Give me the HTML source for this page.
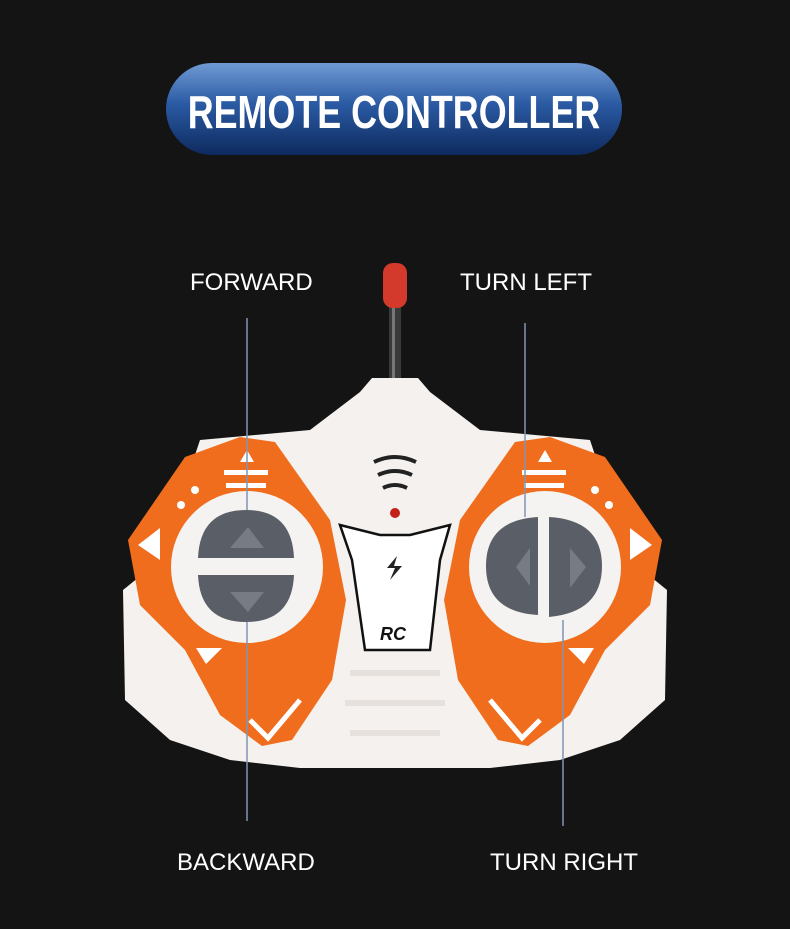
<!DOCTYPE html>
<html><head><style>
html,body{margin:0;padding:0;background:#141414;}
body{width:790px;height:929px;position:relative;overflow:hidden;font-family:"Liberation Sans",sans-serif;}
.lbl{position:absolute;color:#fff;font-size:24px;}
</style></head><body>
<svg width="790" height="929" style="position:absolute;left:0;top:0">
<defs>
<linearGradient id="pill" x1="0" y1="0" x2="0" y2="1">
<stop offset="0" stop-color="#6f9ad3"/><stop offset="0.45" stop-color="#2a5aa3"/><stop offset="1" stop-color="#0e2a5e"/>
</linearGradient>
</defs>
<rect x="166" y="63" width="456" height="92" rx="46" fill="url(#pill)"/>
<text x="394" y="128" text-anchor="middle" fill="#fff" font-family="Liberation Sans" font-weight="bold" font-size="46" transform="translate(394 0) scale(0.78 1) translate(-394 0)">REMOTE CONTROLLER</text>
<!-- antenna -->
<rect x="389" y="300" width="12" height="82" fill="#3a3a3a"/>
<rect x="392" y="300" width="3" height="82" fill="#777"/>
<rect x="383" y="263" width="24" height="45" rx="10" fill="#d33a2c"/>
<!-- white body -->
<path d="M372 378 L418 378 L430 392 L480 430 L590 440 L630 560 L667 590 L665 700 L620 740 L560 760 L490 768 L300 768 L230 760 L170 740 L125 700 L123 590 L160 560 L200 440 L310 430 L360 392 Z" fill="#f4f1ee"/>
<rect x="350" y="670" width="90" height="6" fill="#e6e1dc"/><rect x="345" y="700" width="100" height="6" fill="#e6e1dc"/><rect x="350" y="730" width="90" height="6" fill="#e6e1dc"/>
<!-- wings -->
<path d="M128 540 L185 457 L240 437 L275 442 L330 520 L346 600 L332 680 L292 740 L262 746 L220 715 L185 650 L140 605 Z" fill="#f06d1e"/>
<path d="M662 540 L605 457 L550 437 L515 442 L460 520 L444 600 L458 680 L498 740 L528 746 L570 715 L605 650 L650 605 Z" fill="#f06d1e"/>
<circle cx="247" cy="567" r="76" fill="#f5f3f1"/>
<circle cx="545" cy="567" r="76" fill="#f5f3f1"/>
<path d="M198 558 Q200 510 246 510 Q292 510 294 558 Z" fill="#5a5e66"/>
<path d="M198 575 L294 575 Q292 622 246 622 Q200 622 198 575 Z" fill="#5a5e66"/>
<polygon points="230,548 248,527 264,548" fill="#777b84"/>
<polygon points="230,592 264,592 248,612" fill="#777b84"/>
<path d="M538 517 Q486 520 486 566 Q486 612 538 615 Z" fill="#5a5e66"/>
<path d="M549 517 Q602 520 602 566 Q602 612 549 617 Z" fill="#5a5e66"/>
<polygon points="516,567 530,548 530,586" fill="#777b84"/>
<polygon points="570,548 586,567 570,588" fill="#777b84"/>
<polygon points="138,545 160,528 160,560" fill="#fff"/>
<polygon points="652,545 630,528 630,560" fill="#fff"/>
<polygon points="196,648 222,648 206,664" fill="#fff"/>
<polygon points="594,648 568,648 584,664" fill="#fff"/>
<polygon points="240,462 254,462 247,450" fill="#fff"/>
<polygon points="538,462 552,462 545,450" fill="#fff"/>
<rect x="226" y="483" width="40" height="5" fill="#fff"/><rect x="224" y="470" width="44" height="5" fill="#fff"/>
<rect x="524" y="483" width="40" height="5" fill="#fff"/><rect x="522" y="470" width="44" height="5" fill="#fff"/>
<circle cx="195" cy="490" r="4" fill="#fff"/><circle cx="181" cy="505" r="4" fill="#fff"/>
<circle cx="595" cy="490" r="4" fill="#fff"/><circle cx="609" cy="505" r="4" fill="#fff"/>
<path d="M250 720 L268 738 L300 700" stroke="#fff" stroke-width="5" fill="none"/>
<path d="M540 720 L522 738 L490 700" stroke="#fff" stroke-width="5" fill="none"/>
<!-- center panel -->
<path d="M340 525 L380 535 L410 535 L450 525 L440 560 L430 650 L365 650 L352 560 Z" fill="#fff" stroke="#111" stroke-width="2.5"/>
<path d="M374 462 Q395 452 416 462" stroke="#222" stroke-width="4" fill="none"/>
<path d="M378 475 Q395 467 412 475" stroke="#222" stroke-width="4" fill="none"/>
<path d="M383 488 Q395 482 407 488" stroke="#222" stroke-width="4" fill="none"/>
<circle cx="395" cy="513" r="5" fill="#c2221a"/>
<path d="M397 556 L387 568 L395 568 L390 580 L402 566 L394 566 Z" fill="#222"/>
<text x="380" y="640" font-family="Liberation Sans" font-weight="bold" font-style="italic" font-size="18" fill="#111">RC</text>
<g stroke="#7f95b5" stroke-width="1.5">
<line x1="247" y1="318" x2="247" y2="510"/>
<line x1="247" y1="622" x2="247" y2="821"/>
<line x1="525" y1="323" x2="525" y2="517"/>
<line x1="563" y1="620" x2="563" y2="826"/>
</g>
</svg>
<div class="lbl" style="left:190px;top:269px">FORWARD</div>
<div class="lbl" style="left:460px;top:269px">TURN LEFT</div>
<div class="lbl" style="left:177px;top:849px">BACKWARD</div>
<div class="lbl" style="left:490px;top:849px">TURN RIGHT</div>
</body></html>
